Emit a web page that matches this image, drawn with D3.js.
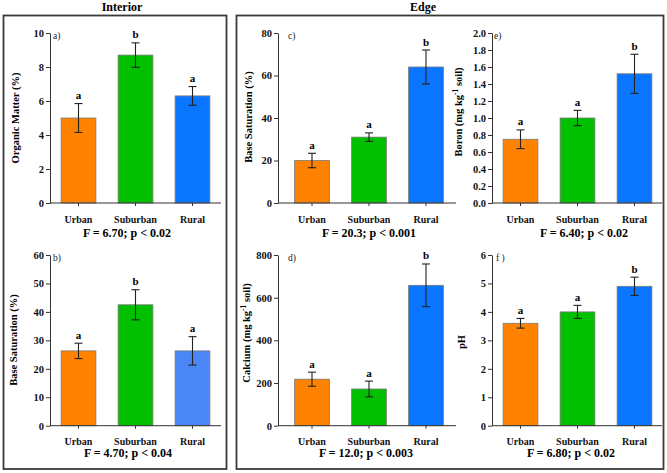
<!DOCTYPE html>
<html>
<head>
<meta charset="utf-8">
<script src="https://cdn.jsdelivr.net/npm/d3@7"></script>
<style>
  html, body { margin: 0; padding: 0; background: #fff; }
  svg { display: block; font-family: "Liberation Serif", "Times New Roman", serif; }
</style>
</head>
<body>
<svg id="chart" width="667" height="473"></svg>
<script>
// ---------------- DATA ----------------
const categories = ["Urban", "Suburban", "Rural"];

const omMean = [5.0, 8.7, 6.3];
const omErr = [0.85, 0.72, 0.55];
const omLetters = ["a", "b", "a"];
const omTicks = [0, 2, 4, 6, 8, 10];
const omStat = "F = 6.70; p < 0.02";

const bsIntMean = [26.3, 42.5, 26.3];
const bsIntErr = [2.7, 5.3, 5.0];
const bsIntLetters = ["a", "b", "a"];
const bsIntTicks = [0, 10, 20, 30, 40, 50, 60];
const bsIntStat = "F = 4.70; p < 0.04";

const bsEdgeMean = [20, 31, 64];
const bsEdgeErr = [3.4, 2.0, 8.0];
const bsEdgeLetters = ["a", "a", "b"];
const bsEdgeTicks = [0, 20, 40, 60, 80];
const bsEdgeStat = "F = 20.3; p < 0.001";

const caMean = [218, 172, 658];
const caErr = [33, 37, 100];
const caLetters = ["a", "a", "b"];
const caTicks = [0, 200, 400, 600, 800];
const caStat = "F = 12.0; p < 0.003";

const boMean = [0.75, 1.0, 1.52];
const boErr = [0.11, 0.09, 0.23];
const boLetters = ["a", "a", "b"];
const boTicks = [0, 0.2, 0.4, 0.6, 0.8, 1.0, 1.2, 1.4, 1.6, 1.8, 2.0];
const boStat = "F = 6.40; p < 0.02";

const phMean = [3.6, 4.0, 4.9];
const phErr = [0.17, 0.23, 0.32];
const phLetters = ["a", "a", "b"];
const phTicks = [0, 1, 2, 3, 4, 5, 6];
const phStat = "F = 6.80; p < 0.02";

const barColors = ["#FF8200", "#00C000", "#0A76FF"];
const barColorsB = ["#FF8200", "#00C000", "#4A86F5"];

// ---------------- LAYOUT ----------------
const svg = d3.select("#chart");
const FONT = '"Liberation Serif", "Times New Roman", serif';

// group boxes
svg.append("rect").attr("x", 3.5).attr("y", 15.5).attr("width", 223).attr("height", 453.5)
  .attr("fill", "none").attr("stroke", "#3a3a3a").attr("stroke-width", 1.8);
svg.append("rect").attr("x", 236.5).attr("y", 15.5).attr("width", 427).attr("height", 453.5)
  .attr("fill", "none").attr("stroke", "#3a3a3a").attr("stroke-width", 1.8);

svg.append("text").attr("x", 122).attr("y", 11).attr("text-anchor", "middle")
  .attr("font-weight", "bold").attr("font-size", 12).text("Interior");
svg.append("text").attr("x", 423).attr("y", 11).attr("text-anchor", "middle")
  .attr("font-weight", "bold").attr("font-size", 12).text("Edge");

const rowTop = { yTop: 33, yBot: 203, catPad: 10, statY: 237 };
const rowBot = { yTop: 255, yBot: 425.7, catPad: 9, statY: 457 };

const panels = [
  { tag: "a)", mean: omMean, err: omErr, letters: omLetters, ticks: omTicks, fmt: d3.format("d"), stat: omStat, colors: barColors,
    title: ["Organic Matter (%)"], row: rowTop, axisX: 50, bandStart: 50, xEnd: 221, tagX: 53, titleX: 17, titleY: 118, statX: 127 },
  { tag: "b)", mean: bsIntMean, err: bsIntErr, letters: bsIntLetters, ticks: bsIntTicks, fmt: d3.format("d"), stat: bsIntStat, colors: barColorsB,
    title: ["Base Saturation (%)"], row: rowBot, axisX: 50, bandStart: 50, xEnd: 221, tagX: 53, titleX: 15, titleY: 340, statX: 128 },
  { tag: "c)", mean: bsEdgeMean, err: bsEdgeErr, letters: bsEdgeLetters, ticks: bsEdgeTicks, fmt: d3.format("d"), stat: bsEdgeStat, colors: barColors,
    title: ["Base Saturation (%)"], row: rowTop, axisX: 278, bandStart: 283.5, xEnd: 456, tagX: 288, titleX: 250, titleY: 117, statX: 369 },
  { tag: "d)", mean: caMean, err: caErr, letters: caLetters, ticks: caTicks, fmt: d3.format("d"), stat: caStat, colors: barColors,
    title: ["Calcium  (mg kg", "-1", " soil)"], row: rowBot, axisX: 278, bandStart: 283.5, xEnd: 456, tagX: 288, titleX: 248, titleY: 333, statX: 366 },
  { tag: "e)", mean: boMean, err: boErr, letters: boLetters, ticks: boTicks, fmt: d3.format(".1f"), stat: boStat, colors: barColors,
    title: ["Boron (mg kg", "-1", " soil)"], row: rowTop, axisX: 492, bandStart: 492, xEnd: 662, tagX: 494, titleX: 460, titleY: 112, statX: 584 },
  { tag: "f )", mean: phMean, err: phErr, letters: phLetters, ticks: phTicks, fmt: d3.format("d"), stat: phStat, colors: barColors,
    title: ["pH"], row: rowBot, axisX: 492, bandStart: 492, xEnd: 662, tagX: 496, titleX: 463, titleY: 342, statX: 571 }
];

panels.forEach(p => {
  const R = p.row;
  const ymax = p.ticks[p.ticks.length - 1];
  const y = d3.scaleLinear().domain([0, ymax]).range([R.yBot, R.yTop]);
  const x = d3.scaleBand().domain(categories).range([p.bandStart, p.bandStart + 171])
    .paddingInner(0.39).paddingOuter(0.195);
  const g = svg.append("g");

  // bars
  g.selectAll("rect.bar").data(categories).join("rect")
    .attr("class", "bar")
    .attr("x", d => x(d))
    .attr("width", x.bandwidth())
    .attr("y", (d, i) => y(p.mean[i]))
    .attr("height", (d, i) => y(0) - y(p.mean[i]))
    .attr("fill", (d, i) => p.colors[i])
    .attr("stroke", "#7a7a7a").attr("stroke-width", 0.8);

  // error bars
  const eb = g.selectAll("g.eb").data(categories).join("g").attr("class", "eb");
  const cx = d => x(d) + x.bandwidth() / 2;
  eb.append("line").attr("x1", cx).attr("x2", cx)
    .attr("y1", (d, i) => y(p.mean[i] - p.err[i])).attr("y2", (d, i) => y(p.mean[i] + p.err[i]))
    .attr("stroke", "#222").attr("stroke-width", 1.1);
  [1, -1].forEach(s => {
    eb.append("line").attr("x1", d => cx(d) - 4).attr("x2", d => cx(d) + 4)
      .attr("y1", (d, i) => y(p.mean[i] + s * p.err[i])).attr("y2", (d, i) => y(p.mean[i] + s * p.err[i]))
      .attr("stroke", "#222").attr("stroke-width", 1.1);
  });

  // significance letters
  g.selectAll("text.sig").data(categories).join("text")
    .attr("class", "sig")
    .attr("x", cx)
    .attr("y", (d, i) => y(p.mean[i] + p.err[i]) - 4.5)
    .attr("text-anchor", "middle").attr("font-weight", "bold").attr("font-size", 11)
    .text((d, i) => p.letters[i]);

  // y axis
  const ya = g.append("g").attr("transform", `translate(${p.axisX},0)`)
    .call(d3.axisLeft(y).tickValues(p.ticks).tickFormat(p.fmt).tickSize(4).tickPadding(2).tickSizeOuter(0));
  ya.selectAll("text").attr("font-family", FONT).attr("font-weight", "bold").attr("font-size", 10.5).attr("fill", "#111");
  ya.selectAll("line, path").attr("stroke", "#333");

  // x axis
  const xa = g.append("g").attr("transform", `translate(0,${R.yBot})`)
    .call(d3.axisBottom(x).tickSize(3).tickPadding(R.catPad).tickSizeOuter(0));
  xa.select(".domain").remove();
  xa.append("line").attr("x1", p.axisX).attr("x2", p.xEnd).attr("y1", 0).attr("y2", 0)
    .attr("stroke", "#333").attr("stroke-width", 1);
  xa.selectAll("text").attr("font-family", FONT).attr("font-weight", "bold").attr("font-size", 10).attr("fill", "#111");
  xa.selectAll(".tick line").attr("stroke", "#333");

  // panel tag
  g.append("text").attr("x", p.tagX).attr("y", R.yTop + 6).attr("font-size", 9.5).attr("fill", "#222").text(p.tag);

  // y title
  const t = g.append("text")
    .attr("transform", `translate(${p.titleX},${p.titleY}) rotate(-90)`)
    .attr("text-anchor", "middle").attr("dominant-baseline", "middle")
    .attr("font-weight", "bold").attr("font-size", 10.5);
  if (p.title.length === 1) {
    t.text(p.title[0]);
  } else {
    t.append("tspan").text(p.title[0]);
    t.append("tspan").attr("font-size", 7.5).attr("dy", -4).text(p.title[1]);
    t.append("tspan").attr("dy", 4).text(p.title[2]);
  }

  // stats
  g.append("text").attr("x", p.statX).attr("y", R.statY).attr("text-anchor", "middle")
    .attr("font-weight", "bold").attr("font-size", 12).text(p.stat);
});
</script>
</body>
</html>
